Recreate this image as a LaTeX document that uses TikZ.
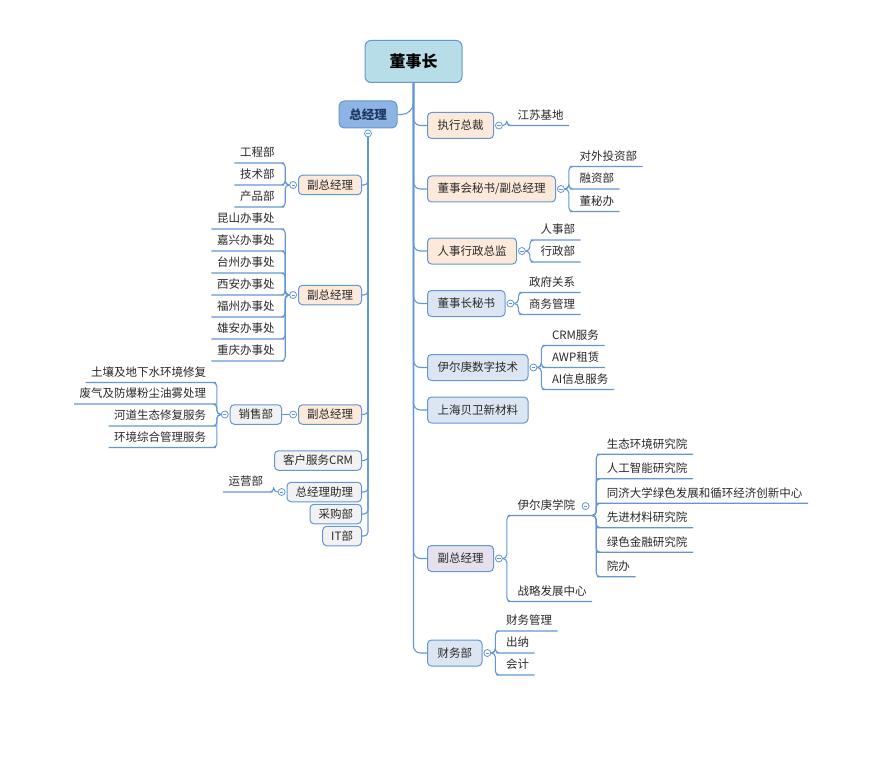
\documentclass[tikz,border=0pt]{standalone}
\usepackage{fontspec}
\setmainfont{Noto Sans CJK SC}
\usepackage{tikz}
\definecolor{mylineblue}{RGB}{98,150,214}
\definecolor{myrootblue}{RGB}{183,222,232}
\definecolor{mygmblue}{RGB}{141,180,226}
\definecolor{mypeach}{RGB}{253,233,217}
\definecolor{mypaleblue}{RGB}{220,230,242}
\definecolor{mylavender}{RGB}{229,224,236}
\definecolor{mygrey}{RGB}{242,242,242}
\definecolor{mytext}{RGB}{40,40,40}
\definecolor{mynavy}{RGB}{31,56,100}
\usetikzlibrary{calc,positioning}
\tikzstyle{rootbox}=[draw=mylineblue,fill=myrootblue,rounded corners=6pt,line width=1pt,minimum width=97pt,minimum height=42pt,text=black,font=\fontsize{16}{18}\selectfont\bfseries]
\tikzstyle{gmbox}=[draw=mylineblue,fill=mygmblue,rounded corners=5pt,line width=1pt,minimum width=58pt,minimum height=27pt,text=mynavy,font=\fontsize{12.5}{14}\selectfont\bfseries]
\tikzstyle{rtopic}=[draw=mylineblue,rounded corners=4pt,line width=1pt,inner xsep=10pt,inner ysep=0pt,minimum height=26pt,text=mytext,font=\fontsize{11.5}{13}\selectfont]
\tikzstyle{ltopic}=[rtopic,inner xsep=8.5pt,minimum height=19.5pt]
\tikzstyle{leaf}=[inner xsep=5.5pt,inner ysep=3.5pt,text height=9pt,text depth=2.5pt,text=mytext,font=\fontsize{11.5}{13}\selectfont]
\tikzstyle{fold}=[circle,draw=mylineblue,fill=white,line width=0.8pt,minimum size=7pt,inner sep=0pt,
  path picture={\draw[mylineblue,line width=0.6pt] ([xshift=-1.6pt]path picture bounding box.center) -- ([xshift=1.6pt]path picture bounding box.center);}]
\tikzstyle{branch}=[draw=mylineblue,line width=1.1pt,rounded corners=4pt]

\begin{document}
\begin{tikzpicture}[x=1pt,y=-1pt]
\useasboundingbox (0, 0) rectangle (895, 757);
% top
\draw (413.5, 61.5) node [rootbox] (dsz) {董事长};
\draw (368, 114.5) node [gmbox] (zjl) {总经理};
\node [fold, below=1pt of zjl] (zjlF) {};
\draw[branch, rounded corners=12pt] (dsz.south) |- (zjl.east);

% right side
\draw (427, 125.5) node [rtopic, fill=mypeach, anchor=west] (zxzc) {执行总裁};
\draw (427, 189) node [rtopic, fill=mypeach, anchor=west] (dms) {董事会秘书/副总经理};
\draw (427, 251) node [rtopic, fill=mypeach, anchor=west] (rsxz) {人事行政总监};
\draw (427, 303.5) node [rtopic, fill=mypaleblue, anchor=west] (dzms) {董事长秘书};
\draw (427, 367.5) node [rtopic, fill=mypaleblue, anchor=west] (ygsz) {伊尔庚数字技术};
\draw (427, 410) node [rtopic, fill=mypaleblue, anchor=west] (shbw) {上海贝卫新材料};
\draw (427, 558.5) node [rtopic, fill=mylavender, anchor=west] (fzjr) {副总经理};
\draw (427, 653) node [rtopic, fill=mypaleblue, anchor=west] (cwb) {财务部};
\foreach \n in {zxzc,dms,rsxz,dzms,ygsz,shbw,fzjr,cwb}
  \draw[branch, rounded corners=7pt] (dsz.south) |- (\n.west);
\foreach \n in {zxzc,dms,rsxz,dzms,ygsz,fzjr,cwb}
  \node [fold, right=1pt of \n] (\n F) {};

\draw ($(zxzcF.east)+(9,0)$) node [leaf, anchor=south west] (jsjd) {江苏基地};
\draw ($(dmsF.east)+(9,-22.5)$) node [leaf, anchor=south west] (dwtz) {对外投资部};
\draw ($(dmsF.east)+(9,0)$) node [leaf, anchor=south west] (rzb) {融资部};
\draw ($(dmsF.east)+(9,22.5)$) node [leaf, anchor=south west] (dmb) {董秘办};
\draw ($(rsxzF.east)+(9,-11)$) node [leaf, anchor=south west] (rsb) {人事部};
\draw ($(rsxzF.east)+(9,11)$) node [leaf, anchor=south west] (xzb) {行政部};
\draw ($(dzmsF.east)+(9,-11)$) node [leaf, anchor=south west] (zfgx) {政府关系};
\draw ($(dzmsF.east)+(9,11)$) node [leaf, anchor=south west] (swgl) {商务管理};
\draw ($(ygszF.east)+(9,-22)$) node [leaf, anchor=south west] (crm) {CRM服务};
\draw ($(ygszF.east)+(9,0)$) node [leaf, anchor=south west] (awp) {AWP租赁};
\draw ($(ygszF.east)+(9,22)$) node [leaf, anchor=south west] (aixx) {AI信息服务};
\draw ($(fzjrF.east)+(9,-43)$) node [leaf, anchor=south west] (ycxy) {伊尔庚学院};
\draw ($(fzjrF.east)+(9,43)$) node [leaf, anchor=south west] (zlfz) {战略发展中心};
\draw ($(cwbF.east)+(9,-22)$) node [leaf, anchor=south west] (cwgl) {财务管理};
\draw ($(cwbF.east)+(9,0)$) node [leaf, anchor=south west] (cnb) {出纳};
\draw ($(cwbF.east)+(9,22)$) node [leaf, anchor=south west] (kjb) {会计};
\draw[branch] (zxzcF.east) -- ++(4,0) |- (jsjd.south west) -- (jsjd.south east);
\foreach \n in {dwtz,rzb,dmb}
  \draw[branch] (dmsF.east) -- ++(4,0) |- (\n.south west) -- (\n.south east);
\foreach \n in {rsb,xzb}
  \draw[branch] (rsxzF.east) -- ++(4,0) |- (\n.south west) -- (\n.south east);
\foreach \n in {zfgx,swgl}
  \draw[branch] (dzmsF.east) -- ++(4,0) |- (\n.south west) -- (\n.south east);
\foreach \n in {crm,awp,aixx}
  \draw[branch] (ygszF.east) -- ++(4,0) |- (\n.south west) -- (\n.south east);
\foreach \n in {cwgl,cnb,kjb}
  \draw[branch] (cwbF.east) -- ++(4,0) |- (\n.south west) -- (\n.south east);

% institute
\node [fold, right=1pt of ycxy] (ycxyF) {};
\coordinate (ycJ) at ($(ycxy.south east)+(11.5,0)$);
\draw ($(ycJ)+(9,-61.25)$) node [leaf, anchor=south west] (styj) {生态环境研究院};
\draw ($(ycJ)+(9,-36.75)$) node [leaf, anchor=south west] (rgzn) {人工智能研究院};
\draw ($(ycJ)+(9,-12.25)$) node [leaf, anchor=south west] (tjdx) {同济大学绿色发展和循环经济创新中心};
\draw ($(ycJ)+(9,12.25)$) node [leaf, anchor=south west] (xjcl) {先进材料研究院};
\draw ($(ycJ)+(9,36.75)$) node [leaf, anchor=south west] (lsjr) {绿色金融研究院};
\draw ($(ycJ)+(9,61.25)$) node [leaf, anchor=south west] (yban) {院办};
\draw[branch] (fzjrF.east) -- ++(4,0) |- (ycxy.south west) -- (ycJ);
\draw[branch] (fzjrF.east) -- ++(4,0) |- (zlfz.south west) -- (zlfz.south east);
\foreach \n in {styj,rgzn,tjdx,xjcl,lsjr,yban}
  \draw[branch] (ycJ) -- ++(4,0) |- (\n.south west) -- (\n.south east);

% left side
\draw (362, 185) node [ltopic, fill=mypeach, anchor=east] (lfz1) {副总经理};
\draw (362, 295) node [ltopic, fill=mypeach, anchor=east] (lfz2) {副总经理};
\draw (362, 414.5) node [ltopic, fill=mypeach, anchor=east] (lfz3) {副总经理};
\draw (362, 460.5) node [ltopic, fill=mygrey, anchor=east] (khfw) {客户服务CRM};
\draw (362, 492) node [ltopic, fill=mygrey, anchor=east] (zjlzl) {总经理助理};
\draw (362, 514) node [ltopic, fill=mygrey, anchor=east] (cgb) {采购部};
\draw (362, 536) node [ltopic, fill=mygrey, anchor=east] (itb) {IT部};
\foreach \n in {lfz1,lfz2,lfz3,khfw,zjlzl,cgb,itb}
  \draw[branch] (zjlF.south) |- (\n.east);
\foreach \n in {lfz1,lfz2,lfz3,zjlzl}
  \node [fold, left=1pt of \n] (\n F) {};
\node [ltopic, fill=mygrey, left=7pt of lfz3F] (xsb) {销售部};
\node [fold, left=1pt of xsb] (xsbF) {};
\draw[branch] (lfz3F.west) -- (xsb.east);

\draw ($(lfz1F.west)+(-9,-22)$) node [leaf, anchor=south east] (gcb) {工程部};
\draw ($(lfz1F.west)+(-9,0)$) node [leaf, anchor=south east] (jsb) {技术部};
\draw ($(lfz1F.west)+(-9,22)$) node [leaf, anchor=south east] (cpb) {产品部};
\draw ($(lfz2F.west)+(-9,-66)$) node [leaf, anchor=south east] (ksb) {昆山办事处};
\draw ($(lfz2F.west)+(-9,-44)$) node [leaf, anchor=south east] (jxb) {嘉兴办事处};
\draw ($(lfz2F.west)+(-9,-22)$) node [leaf, anchor=south east] (tzb) {台州办事处};
\draw ($(lfz2F.west)+(-9,0)$) node [leaf, anchor=south east] (xab) {西安办事处};
\draw ($(lfz2F.west)+(-9,22)$) node [leaf, anchor=south east] (fzb) {福州办事处};
\draw ($(lfz2F.west)+(-9,44)$) node [leaf, anchor=south east] (xnb) {雄安办事处};
\draw ($(lfz2F.west)+(-9,66)$) node [leaf, anchor=south east] (cqb) {重庆办事处};
\draw ($(xsbF.west)+(-9,-32)$) node [leaf, anchor=south east] (trxf) {土壤及地下水环境修复};
\draw ($(xsbF.west)+(-9,-10.5)$) node [leaf, anchor=south east] (fqcl) {废气及防爆粉尘油雾处理};
\draw ($(xsbF.west)+(-9,11.5)$) node [leaf, anchor=south east] (hdxf) {河道生态修复服务};
\draw ($(xsbF.west)+(-9,33)$) node [leaf, anchor=south east] (hjzh) {环境综合管理服务};
\draw ($(zjlzlF.west)+(-9,0)$) node [leaf, anchor=south east] (yyb) {运营部};
\foreach \n in {gcb,jsb,cpb}
  \draw[branch] (lfz1F.west) -- ++(-4,0) |- (\n.south east) -- (\n.south west);
\foreach \n in {ksb,jxb,tzb,xab,fzb,xnb,cqb}
  \draw[branch] (lfz2F.west) -- ++(-4,0) |- (\n.south east) -- (\n.south west);
\foreach \n in {trxf,fqcl,hdxf,hjzh}
  \draw[branch] (xsbF.west) -- ++(-4,0) |- (\n.south east) -- (\n.south west);
\draw[branch] (zjlzlF.west) -- ++(-4,0) |- (yyb.south east) -- (yyb.south west);
\end{tikzpicture}
\end{document}
